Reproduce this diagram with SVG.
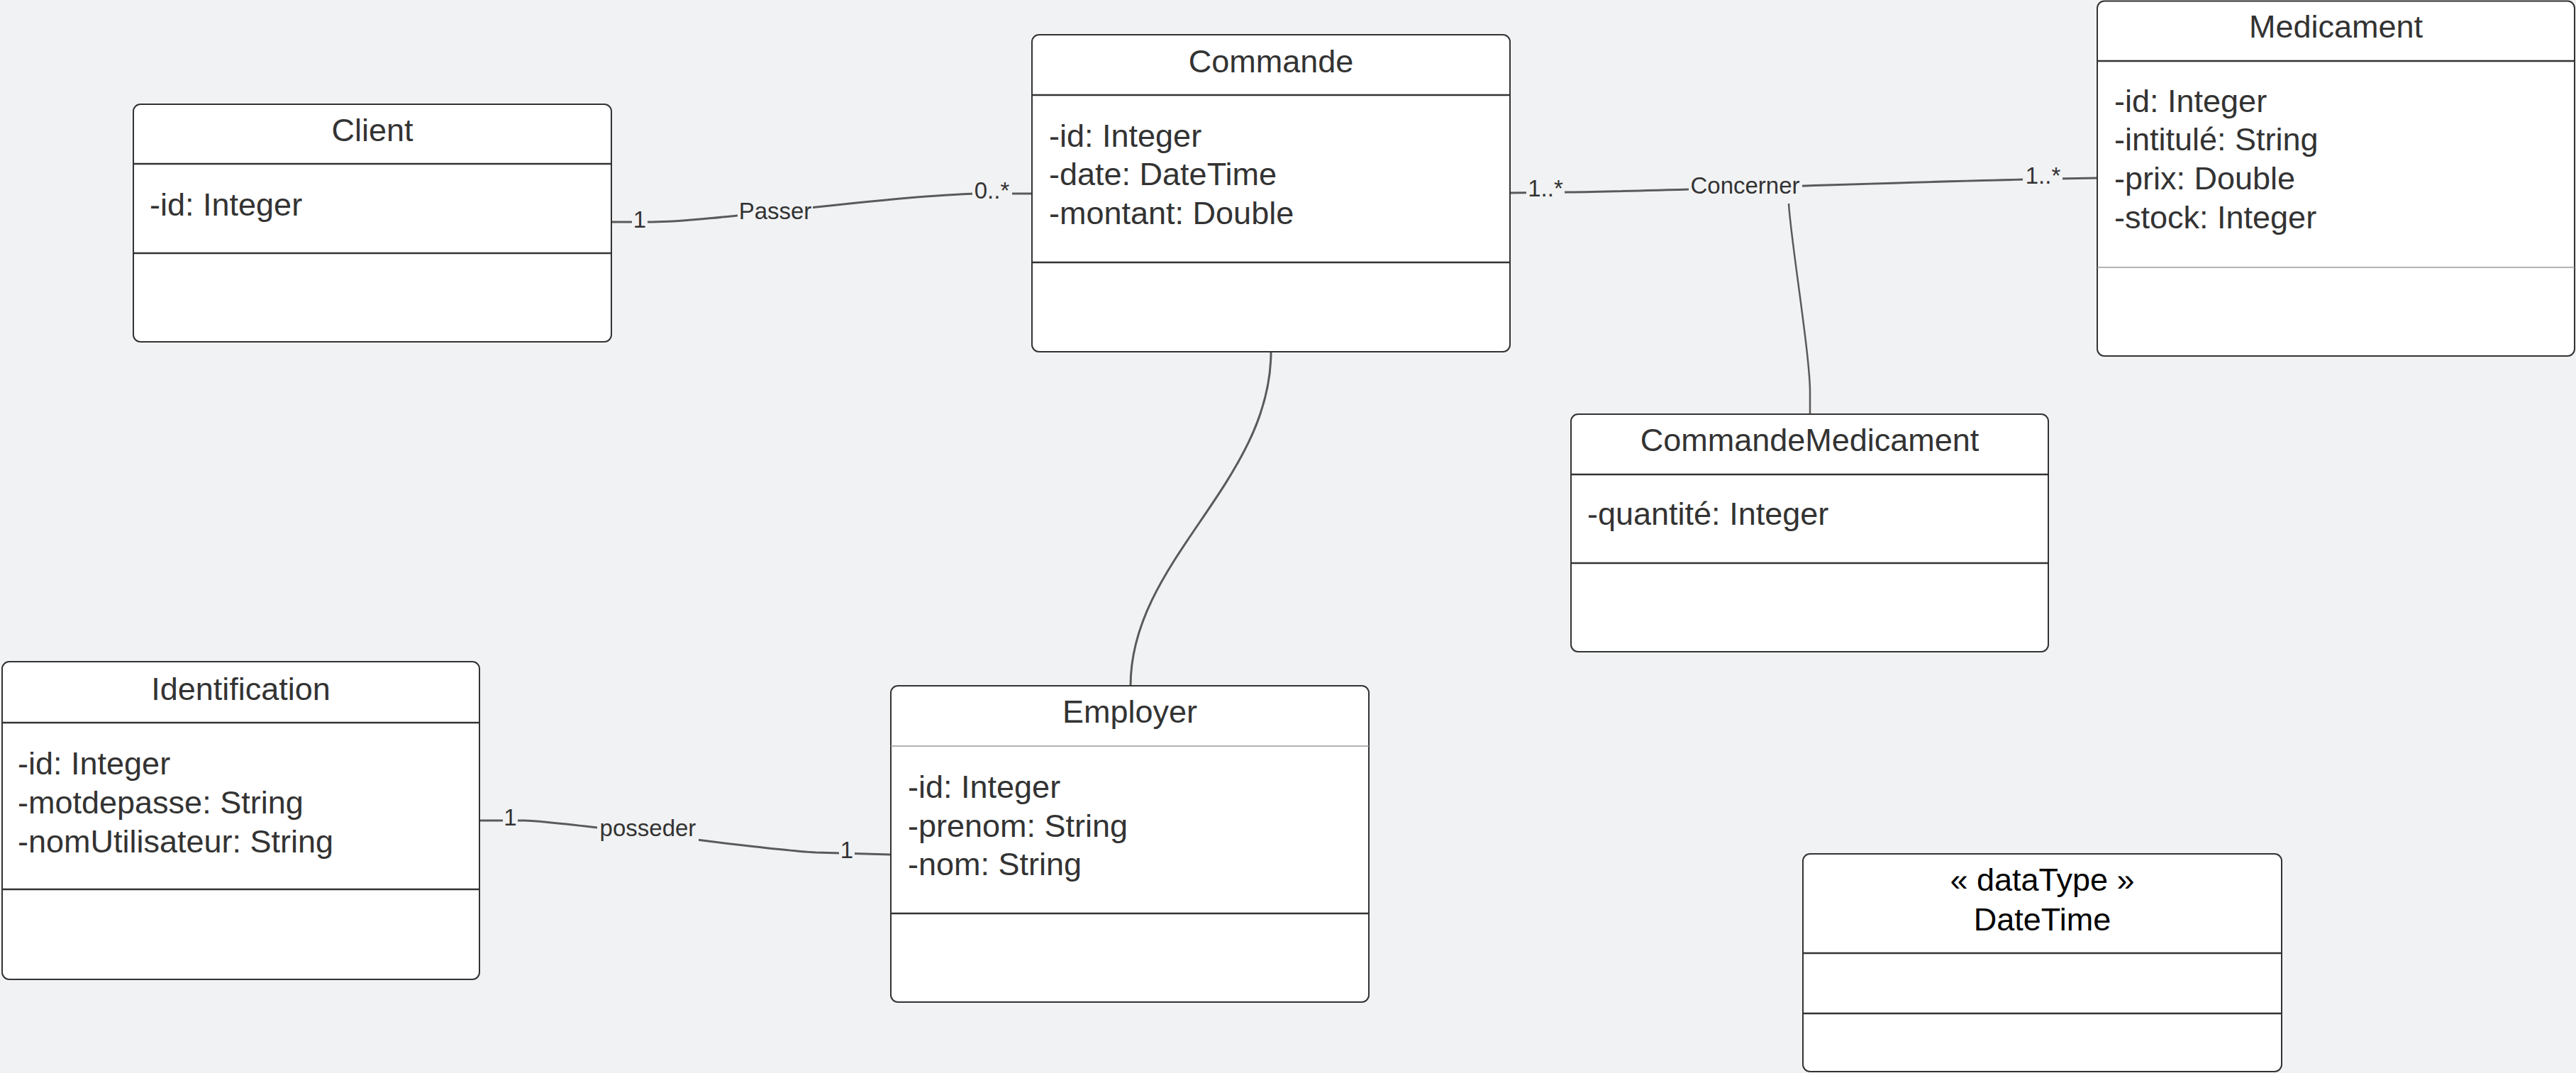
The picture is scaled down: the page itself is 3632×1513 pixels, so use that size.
<svg xmlns="http://www.w3.org/2000/svg" width="3632" height="1513" viewBox="0 0 3632 1513">
<style>
.box{fill:#ffffff;stroke:#333333;stroke-width:2}
.dv{stroke:#333333;stroke-width:2.5}
.dvl{stroke:#9a9a9a;stroke-width:1.3}
.t{font-family:"Liberation Sans",Arial,sans-serif;font-size:45px;fill:#333333}
.c{text-anchor:middle}
.k{fill:#000000}
.edge{fill:none;stroke:#5a5a5a;stroke-width:3}
.thin{stroke-width:2.5}
.mask{fill:#f1f2f4}
.lbl{font-family:"Liberation Sans",Arial,sans-serif;font-size:33px;fill:#333333;text-anchor:middle}
</style>
<rect x="0" y="0" width="3632" height="1513" fill="#f1f2f4"/>
<g id="connectors">
<path class="edge" d="M862,313 L920,313 C1000,313 1250,276 1380,273 L1455,273"/>
<path class="edge" d="M2129,272 L2210,271 C2400,268 2700,256 2900,252 L2957,251"/>
<path class="edge thin" d="M2522,287 C2525,340 2552,500 2552,553 L2552,584"/>
<path class="edge" d="M1792,496 C1792,680 1594,790 1594,967"/>
<path class="edge" d="M676,1157 L740,1157 C800,1158 1050,1196 1150,1202 L1256,1205"/>
<rect class="mask" x="891" y="292" width="22" height="32"/>
<text class="lbl" x="902" y="321">1</text>
<rect class="mask" x="1040" y="283" width="106" height="32"/>
<text class="lbl" x="1093" y="309">Passer</text>
<rect class="mask" x="1371" y="256" width="56" height="28"/>
<text class="lbl" x="1398.5" y="280">0..*</text>
<rect class="mask" x="2152" y="252" width="54" height="30"/>
<text class="lbl" x="2179" y="277">1..*</text>
<rect class="mask" x="2381" y="248" width="160" height="34"/>
<text class="lbl" x="2460.5" y="273">Concerner</text>
<rect class="mask" x="2852" y="234" width="56" height="30"/>
<text class="lbl" x="2880.5" y="259">1..*</text>
<rect class="mask" x="709" y="1139" width="21" height="30"/>
<text class="lbl" x="719.5" y="1164">1</text>
<rect class="mask" x="842" y="1154" width="143" height="36"/>
<text class="lbl" x="913.5" y="1179">posseder</text>
<rect class="mask" x="1183" y="1185" width="22" height="30"/>
<text class="lbl" x="1194" y="1210">1</text>
</g>
<g id="client">
<rect class="box" x="188" y="147" width="674" height="335" rx="10"/>
<line class="dv" x1="188" y1="231" x2="862" y2="231"/>
<line class="dv" x1="188" y1="357" x2="862" y2="357"/>
<text class="t c" x="525" y="199">Client</text>
<text class="t" x="211" y="304">-id: Integer</text>
</g>
<g id="commande">
<rect class="box" x="1455" y="49" width="674" height="447" rx="10"/>
<line class="dv" x1="1455" y1="134" x2="2129" y2="134"/>
<line class="dv" x1="1455" y1="370" x2="2129" y2="370"/>
<text class="t c" x="1792" y="102">Commande</text>
<text class="t" x="1479" y="207">-id: Integer</text>
<text class="t" x="1479" y="261">-date: DateTime</text>
<text class="t" x="1479" y="316">-montant: Double</text>
</g>
<g id="medicament">
<rect class="box" x="2957" y="1.5" width="673" height="500.5" rx="10"/>
<line class="dv" x1="2957" y1="86" x2="3630" y2="86"/>
<line class="dvl" x1="2957" y1="377" x2="3630" y2="377"/>
<text class="t c" x="3293.5" y="53">Medicament</text>
<text class="t" x="2981" y="158">-id: Integer</text>
<text class="t" x="2981" y="212">-intitulé: String</text>
<text class="t" x="2981" y="267">-prix: Double</text>
<text class="t" x="2981" y="322">-stock: Integer</text>
</g>
<g id="commandemedicament">
<rect class="box" x="2215" y="584" width="673" height="335" rx="10"/>
<line class="dv" x1="2215" y1="669" x2="2888" y2="669"/>
<line class="dv" x1="2215" y1="794" x2="2888" y2="794"/>
<text class="t c" x="2551.5" y="636">CommandeMedicament</text>
<text class="t" x="2238" y="740">-quantité: Integer</text>
</g>
<g id="identification">
<rect class="box" x="3" y="933" width="673" height="448" rx="10"/>
<line class="dv" x1="3" y1="1019" x2="676" y2="1019"/>
<line class="dv" x1="3" y1="1254" x2="676" y2="1254"/>
<text class="t c" x="339.5" y="987">Identification</text>
<text class="t" x="25" y="1092">-id: Integer</text>
<text class="t" x="25" y="1147">-motdepasse: String</text>
<text class="t" x="25" y="1202">-nomUtilisateur: String</text>
</g>
<g id="employer">
<rect class="box" x="1256" y="967" width="674" height="446" rx="10"/>
<line class="dvl" x1="1256" y1="1052" x2="1930" y2="1052"/>
<line class="dv" x1="1256" y1="1288" x2="1930" y2="1288"/>
<text class="t c" x="1593" y="1019">Employer</text>
<text class="t" x="1280" y="1125">-id: Integer</text>
<text class="t" x="1280" y="1180">-prenom: String</text>
<text class="t" x="1280" y="1234">-nom: String</text>
</g>
<g id="datetime">
<rect class="box" x="2542" y="1204" width="675" height="307" rx="10"/>
<line class="dv" x1="2542" y1="1344" x2="3217" y2="1344"/>
<line class="dv" x1="2542" y1="1429" x2="3217" y2="1429"/>
<text class="t c k" x="2879.5" y="1256">« dataType »</text>
<text class="t c k" x="2879.5" y="1312">DateTime</text>
</g>
</svg>
